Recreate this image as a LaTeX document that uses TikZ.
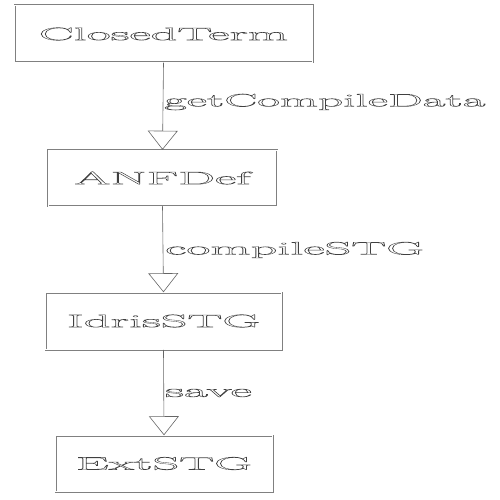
\documentclass[tikz,border=0pt]{standalone}
\usepackage{graphicx}
\usetikzlibrary{arrows.meta}
\newcommand{\outl}[1]{\special{pdf:literal 1 Tr 0.3 w}#1\special{pdf:literal 0 Tr}}
\newcommand{\wide}[2][2.9]{\scalebox{#1}[1]{\fontsize{18}{21}\selectfont\outl{#2}}}
\tikzset{
  block/.style={draw=gray, double=white, double distance=1pt, line width=0.5pt, inner sep=0pt, text=black!75},
  flow/.style={draw=gray!80!black, line width=0.6pt, -{Triangle[open, width=30pt, length=19pt, line width=0.6pt]}},
  lbl/.style={anchor=west, inner sep=0pt, text=black!75}
}
\begin{document}
\begin{tikzpicture}[x=1pt,y=-1pt]
\useasboundingbox (0,0) rectangle (500,500);
\node[block, minimum width=298pt, minimum height=57pt] (term) at (163.5,34){\wide{ClosedTerm}};
\node[block, minimum width=229pt, minimum height=56pt] (anf) at (162.5,178){\wide{ANFDef}};
\node[block, minimum width=236pt, minimum height=57pt] (idris) at (163.5,321){\wide{IdrisSTG}};
\node[block, minimum width=217pt, minimum height=56pt] (ext) at (164,463.5){\wide{ExtSTG}};
\draw[flow] (term.south) -- (anf.north);
\draw[flow] (anf.south) -- (idris.north);
\draw[flow] (idris.south) -- (ext.north);
\node[lbl] (l1) at (164,102){\wide[2.74]{getCompileData}};
\node[lbl] (l2) at (165,250){\wide{compileSTG}};
\node[lbl] (l3) at (165,393){\wide{save}};
\end{tikzpicture}
\end{document}
